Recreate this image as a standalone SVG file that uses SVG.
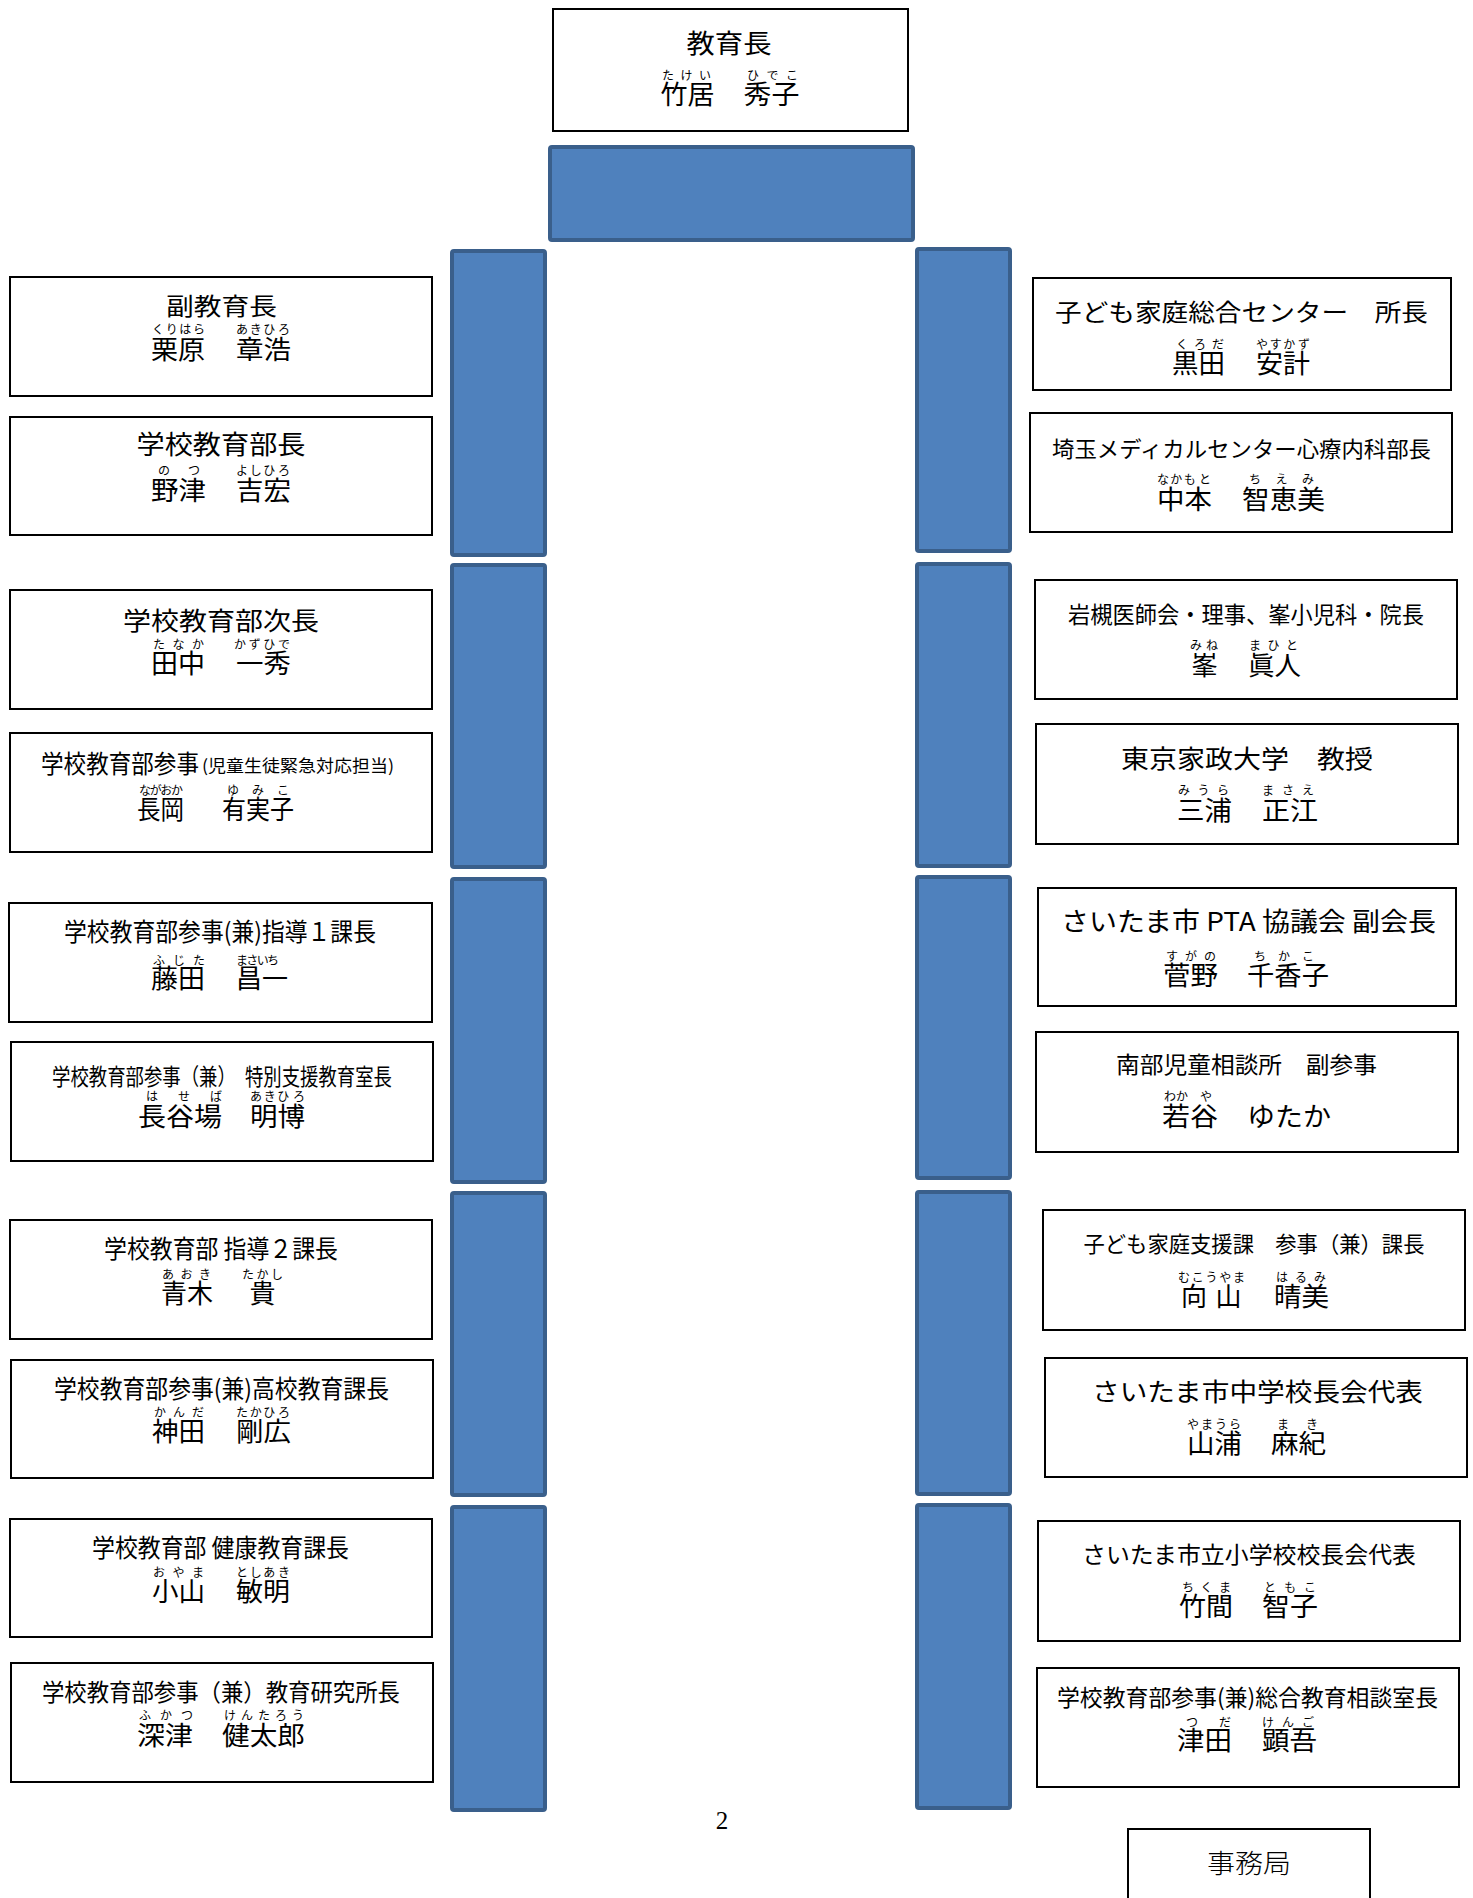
<svg xmlns="http://www.w3.org/2000/svg" width="1473" height="1898" viewBox="0 0 1473 1898">
<style>
.box{fill:#fff;stroke:#000;stroke-width:2}
.bar{fill:#4f81bd;stroke:#3a5f8b;stroke-width:4}
text{font-family:"Noto Sans CJK JP","Noto Sans",sans-serif;fill:#000;text-anchor:middle}
.f{font-size:12px}
.n{font-size:26px}
</style>
<rect width="1473" height="1898" fill="#fff"/>
<g id="connectors">
<rect class="bar" x="550" y="147" width="363" height="93" rx="2"/>
<rect class="bar" x="452" y="251" width="93" height="304" rx="2"/>
<rect class="bar" x="452" y="565" width="93" height="302" rx="2"/>
<rect class="bar" x="452" y="879" width="93" height="303" rx="2"/>
<rect class="bar" x="452" y="1193" width="93" height="302" rx="2"/>
<rect class="bar" x="452" y="1507" width="93" height="303" rx="2"/>
<rect class="bar" x="917" y="249" width="93" height="302" rx="2"/>
<rect class="bar" x="917" y="564" width="93" height="302" rx="2"/>
<rect class="bar" x="917" y="877" width="93" height="301" rx="2"/>
<rect class="bar" x="917" y="1192" width="93" height="302" rx="2"/>
<rect class="bar" x="917" y="1505" width="93" height="303" rx="2"/>
</g>
<g id="node-top">
<rect class="box" x="553" y="9" width="355" height="122"/>
<text x="729" y="53" font-size="26" textLength="85" lengthAdjust="spacingAndGlyphs">教育長</text>
<text class="f" x="668 686.5 705" y="80">たけい</text>
<text class="f" x="753 772.5 792" y="80">ひでこ</text>
<text class="n" x="687.5" y="104" textLength="54" lengthAdjust="spacingAndGlyphs">竹居</text>
<text class="n" x="771.5" y="104" textLength="56" lengthAdjust="spacingAndGlyphs">秀子</text>
</g>
<g id="node-L1">
<rect class="box" x="10" y="277" width="422" height="119"/>
<text x="221.5" y="314.5" font-size="24" textLength="111" lengthAdjust="spacingAndGlyphs">副教育長</text>
<text class="f" x="158 171.7 185.3 199" y="334">くりはら</text>
<text class="f" x="242 255.7 269.3 284" y="334">あきひろ</text>
<text class="n" x="178" y="359" textLength="54" lengthAdjust="spacingAndGlyphs">栗原</text>
<text class="n" x="263.5" y="359" textLength="55" lengthAdjust="spacingAndGlyphs">章浩</text>
</g>
<g id="node-L2">
<rect class="box" x="10" y="417" width="422" height="118"/>
<text x="221" y="454" font-size="26" textLength="169" lengthAdjust="spacingAndGlyphs">学校教育部長</text>
<text class="f" x="164 194" y="475">のつ</text>
<text class="f" x="242 255.7 269.3 284" y="475">よしひろ</text>
<text class="n" x="178.5" y="500" textLength="55" lengthAdjust="spacingAndGlyphs">野津</text>
<text class="n" x="263.5" y="500" textLength="55" lengthAdjust="spacingAndGlyphs">吉宏</text>
</g>
<g id="node-L3">
<rect class="box" x="10" y="590" width="422" height="119"/>
<text x="221" y="630" font-size="25" textLength="196" lengthAdjust="spacingAndGlyphs">学校教育部次長</text>
<text class="f" x="159 178.5 198" y="649">たなか</text>
<text class="f" x="240 254.7 269.3 284" y="649">かずひで</text>
<text class="n" x="178" y="673" textLength="54" lengthAdjust="spacingAndGlyphs">田中</text>
<text class="n" x="263.5" y="673" textLength="55" lengthAdjust="spacingAndGlyphs">一秀</text>
</g>
<g id="node-L4">
<rect class="box" x="10" y="733" width="422" height="119"/>
<text x="120" y="773" font-size="25" textLength="158" lengthAdjust="spacingAndGlyphs">学校教育部参事</text>
<text x="298" y="772" font-size="17" textLength="192" lengthAdjust="spacingAndGlyphs">(児童生徒緊急対応担当)</text>
<text class="f" x="145 155.7 166.3 177" y="795">ながおか</text>
<text class="f" x="233 258 283" y="795">ゆみこ</text>
<text class="n" x="160.5" y="819" textLength="47" lengthAdjust="spacingAndGlyphs">長岡</text>
<text class="n" x="258" y="819" textLength="72" lengthAdjust="spacingAndGlyphs">有実子</text>
</g>
<g id="node-L5">
<rect class="box" x="9" y="903" width="423" height="119"/>
<text x="220" y="941" font-size="25" textLength="312" lengthAdjust="spacingAndGlyphs">学校教育部参事(兼)指導１課長</text>
<text class="f" x="159 179 199" y="965">ふじた</text>
<text class="f" x="242 252.3 262.7 273" y="965">まさいち</text>
<text class="n" x="178" y="988" textLength="54" lengthAdjust="spacingAndGlyphs">藤田</text>
<text class="n" x="262" y="988" textLength="52" lengthAdjust="spacingAndGlyphs">昌一</text>
</g>
<g id="node-L6">
<rect class="box" x="11" y="1042" width="422" height="119"/>
<text x="222" y="1085" font-size="23" textLength="340" lengthAdjust="spacingAndGlyphs">学校教育部参事（兼）　特別支援教育室長</text>
<text class="f" x="152 184 216" y="1101">はせば</text>
<text class="f" x="256 269.7 283.3 299" y="1101">あきひろ</text>
<text class="n" x="180" y="1126" textLength="84" lengthAdjust="spacingAndGlyphs">長谷場</text>
<text class="n" x="277.5" y="1126" textLength="55" lengthAdjust="spacingAndGlyphs">明博</text>
</g>
<g id="node-L7">
<rect class="box" x="10" y="1220" width="422" height="119"/>
<text x="221" y="1258" font-size="25" textLength="234" lengthAdjust="spacingAndGlyphs">学校教育部 指導２課長</text>
<text class="f" x="168 186.5 205" y="1279">あおき</text>
<text class="f" x="248 262.5 277" y="1279">たかし</text>
<text class="n" x="187" y="1303" textLength="52" lengthAdjust="spacingAndGlyphs">青木</text>
<text class="n" x="262.5" y="1303">貴</text>
</g>
<g id="node-L8">
<rect class="box" x="11" y="1360" width="422" height="118"/>
<text x="221.5" y="1398" font-size="25" textLength="335" lengthAdjust="spacingAndGlyphs">学校教育部参事(兼)高校教育課長</text>
<text class="f" x="160 179 198" y="1417">かんだ</text>
<text class="f" x="242 255.7 269.3 284" y="1417">たかひろ</text>
<text class="n" x="178.5" y="1441" textLength="53" lengthAdjust="spacingAndGlyphs">神田</text>
<text class="n" x="263.5" y="1441" textLength="55" lengthAdjust="spacingAndGlyphs">剛広</text>
</g>
<g id="node-L9">
<rect class="box" x="10" y="1519" width="422" height="118"/>
<text x="220.5" y="1557" font-size="25" textLength="257" lengthAdjust="spacingAndGlyphs">学校教育部 健康教育課長</text>
<text class="f" x="159 178.5 198" y="1577">おやま</text>
<text class="f" x="242 255.7 269.3 284" y="1577">としあき</text>
<text class="n" x="178.5" y="1601" textLength="53" lengthAdjust="spacingAndGlyphs">小山</text>
<text class="n" x="263" y="1601" textLength="54" lengthAdjust="spacingAndGlyphs">敏明</text>
</g>
<g id="node-L10">
<rect class="box" x="11" y="1663" width="422" height="119"/>
<text x="221" y="1701" font-size="24" textLength="358" lengthAdjust="spacingAndGlyphs">学校教育部参事（兼）教育研究所長</text>
<text class="f" x="145 166 187" y="1720">ふかつ</text>
<text class="f" x="230 247 264 281 298" y="1720">けんたろう</text>
<text class="n" x="165" y="1745" textLength="56" lengthAdjust="spacingAndGlyphs">深津</text>
<text class="n" x="263.5" y="1745" textLength="83" lengthAdjust="spacingAndGlyphs">健太郎</text>
</g>
<g id="node-R1">
<rect class="box" x="1033" y="278" width="418" height="112"/>
<text x="1241.5" y="321" font-size="24" textLength="373" lengthAdjust="spacingAndGlyphs">子ども家庭総合センター　所長</text>
<text class="f" x="1182 1200 1218" y="349">くろだ</text>
<text class="f" x="1262 1275.7 1289.3 1304" y="349">やすかず</text>
<text class="n" x="1198.5" y="373" textLength="53" lengthAdjust="spacingAndGlyphs">黒田</text>
<text class="n" x="1283" y="373" textLength="54" lengthAdjust="spacingAndGlyphs">安計</text>
</g>
<g id="node-R2">
<rect class="box" x="1030" y="413" width="422" height="119"/>
<text x="1241.5" y="457" font-size="22" textLength="379" lengthAdjust="spacingAndGlyphs">埼玉メディカルセンター心療内科部長</text>
<text class="f" x="1163 1176.3 1189.7 1205" y="484">なかもと</text>
<text class="f" x="1255 1281.5 1308" y="484">ちえみ</text>
<text class="n" x="1184.5" y="509" textLength="55" lengthAdjust="spacingAndGlyphs">中本</text>
<text class="n" x="1283.5" y="509" textLength="83" lengthAdjust="spacingAndGlyphs">智恵美</text>
</g>
<g id="node-R3">
<rect class="box" x="1035" y="580" width="422" height="119"/>
<text x="1246" y="623" font-size="23" textLength="356" lengthAdjust="spacingAndGlyphs">岩槻医師会・理事、峯小児科・院長</text>
<text class="f" x="1196 1212" y="650">みね</text>
<text class="f" x="1255 1273.5 1292" y="650">まひと</text>
<text class="n" x="1204.5" y="675">峯</text>
<text class="n" x="1274.5" y="675" textLength="53" lengthAdjust="spacingAndGlyphs">眞人</text>
</g>
<g id="node-R4">
<rect class="box" x="1036" y="724" width="422" height="120"/>
<text x="1247" y="768" font-size="25" textLength="252" lengthAdjust="spacingAndGlyphs">東京家政大学　教授</text>
<text class="f" x="1184 1203.5 1223" y="795">みうら</text>
<text class="f" x="1268 1288 1308" y="795">まさえ</text>
<text class="n" x="1204.5" y="820" textLength="55" lengthAdjust="spacingAndGlyphs">三浦</text>
<text class="n" x="1290" y="820" textLength="56" lengthAdjust="spacingAndGlyphs">正江</text>
</g>
<g id="node-R5">
<rect class="box" x="1038" y="888" width="418" height="118"/>
<text x="1248.5" y="931" font-size="26" textLength="375" lengthAdjust="spacingAndGlyphs">さいたま市 PTA 協議会 副会長</text>
<text class="f" x="1172 1191 1210" y="961">すがの</text>
<text class="f" x="1260 1284 1308" y="961">ちかこ</text>
<text class="n" x="1190.5" y="985" textLength="55" lengthAdjust="spacingAndGlyphs">菅野</text>
<text class="n" x="1288" y="985" textLength="82" lengthAdjust="spacingAndGlyphs">千香子</text>
</g>
<g id="node-R6">
<rect class="box" x="1036" y="1032" width="422" height="120"/>
<text x="1246.5" y="1073" font-size="23" textLength="261" lengthAdjust="spacingAndGlyphs">南部児童相談所　副参事</text>
<text class="f" x="1170 1182 1206" y="1101">わかや</text>
<text class="n" x="1190" y="1126" textLength="56" lengthAdjust="spacingAndGlyphs">若谷</text>
<text class="n" x="1289" y="1126" textLength="84" lengthAdjust="spacingAndGlyphs">ゆたか</text>
</g>
<g id="node-R7">
<rect class="box" x="1043" y="1210" width="422" height="120"/>
<text x="1254" y="1252" font-size="22" textLength="341" lengthAdjust="spacingAndGlyphs">子ども家庭支援課　参事（兼）課長</text>
<text class="f" x="1184 1197.75 1211.5 1225.25 1239" y="1282">むこうやま</text>
<text class="f" x="1282 1301 1320" y="1282">はるみ</text>
<text class="n" x="1194" y="1306">向</text>
<text class="n" x="1228.5" y="1306">山</text>
<text class="n" x="1301.5" y="1306" textLength="55" lengthAdjust="spacingAndGlyphs">晴美</text>
</g>
<g id="node-R8">
<rect class="box" x="1045" y="1358" width="422" height="119"/>
<text x="1257.5" y="1401" font-size="25" textLength="331" lengthAdjust="spacingAndGlyphs">さいたま市中学校長会代表</text>
<text class="f" x="1193 1207 1221 1235" y="1429">やまうら</text>
<text class="f" x="1283 1312" y="1429">まき</text>
<text class="n" x="1214.5" y="1453" textLength="55" lengthAdjust="spacingAndGlyphs">山浦</text>
<text class="n" x="1298.5" y="1453" textLength="55" lengthAdjust="spacingAndGlyphs">麻紀</text>
</g>
<g id="node-R9">
<rect class="box" x="1038" y="1521" width="422" height="120"/>
<text x="1249" y="1563" font-size="23" textLength="334" lengthAdjust="spacingAndGlyphs">さいたま市立小学校校長会代表</text>
<text class="f" x="1188 1206.5 1225" y="1592">ちくま</text>
<text class="f" x="1270 1290 1310" y="1592">ともこ</text>
<text class="n" x="1206" y="1616" textLength="54" lengthAdjust="spacingAndGlyphs">竹間</text>
<text class="n" x="1290" y="1616" textLength="56" lengthAdjust="spacingAndGlyphs">智子</text>
</g>
<g id="node-R10">
<rect class="box" x="1037" y="1668" width="422" height="119"/>
<text x="1247.5" y="1706" font-size="23" textLength="381" lengthAdjust="spacingAndGlyphs">学校教育部参事(兼)総合教育相談室長</text>
<text class="f" x="1192 1225" y="1727">つだ</text>
<text class="f" x="1268 1288 1308" y="1727">けんご</text>
<text class="n" x="1204.5" y="1750" textLength="55" lengthAdjust="spacingAndGlyphs">津田</text>
<text class="n" x="1289.5" y="1750" textLength="55" lengthAdjust="spacingAndGlyphs">顕吾</text>
</g>
<g id="node-office">
<rect class="box" x="1128" y="1829" width="242" height="100"/>
<text x="1249" y="1873" font-size="26" font-weight="300" textLength="84" lengthAdjust="spacingAndGlyphs">事務局</text>
</g>
<text x="722" y="1829" font-size="25" style="font-family:'Liberation Serif',serif">2</text>
</svg>
